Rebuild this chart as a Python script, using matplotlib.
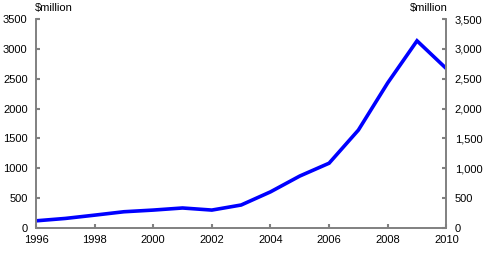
import matplotlib
matplotlib.use('Agg')
import matplotlib.pyplot as plt
from matplotlib.ticker import FuncFormatter

years = [1996, 1997, 1998, 1999, 2000, 2001, 2002, 2003, 2004, 2005, 2006, 2007, 2008, 2009, 2010]
values = [120, 160, 215, 272, 300, 335, 300, 385, 605, 870, 1085, 1640, 2430, 3135, 2670]

x_ticks = [1996, 1998, 2000, 2002, 2004, 2006, 2008, 2010]
y_ticks = [0, 500, 1000, 1500, 2000, 2500, 3000, 3500]
unit_label = '$million'

plt.rcParams['font.family'] = ['Liberation Sans', 'DejaVu Sans']
plt.rcParams['font.size'] = 8

grey = '#808080'
fig = plt.figure(figsize=(4.91, 2.64), dpi=100)
ax = fig.add_axes([0.0733, 0.1364, 0.8357, 0.7916])
ax.plot(years, values, color='#0000ff', linewidth=2.6, solid_joinstyle='miter')

ax.set_xlim(1996, 2010)
ax.set_ylim(0, 3500)
ax.set_xticks(x_ticks)
ax.set_yticks(y_ticks)

ax2 = ax.twinx()
ax2.set_ylim(0, 3500)
ax2.set_yticks(y_ticks)
ax2.yaxis.set_major_formatter(FuncFormatter(lambda v, p: '{:,.0f}'.format(v)))

for a in (ax, ax2):
    a.spines['top'].set_visible(False)
    for s in ('left', 'right', 'bottom'):
        a.spines[s].set_color(grey)
        a.spines[s].set_linewidth(1.2)
    a.tick_params(direction='in', length=3, width=1.5, color=grey, labelsize=8)
ax.tick_params(axis='y', pad=6)
ax.tick_params(axis='x', pad=5)
ax2.tick_params(axis='y', pad=6)

fig.text(0.0713, 0.968, unit_label, ha='left', va='center', fontsize=8)
fig.text(0.911, 0.968, unit_label, ha='right', va='center', fontsize=8)

fig.savefig('out.png', dpi=100)
